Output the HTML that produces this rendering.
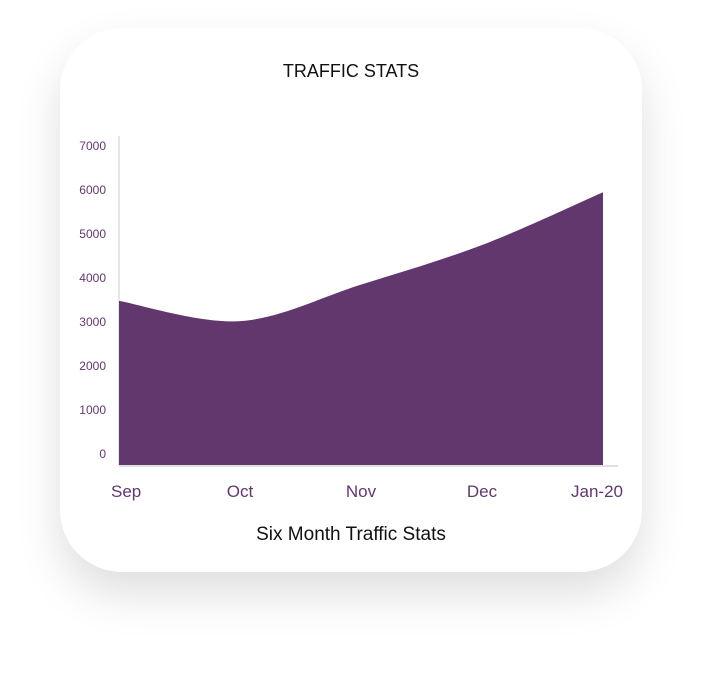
<!DOCTYPE html>
<html><head><meta charset="utf-8"><style>
body{margin:0;width:702px;height:673px;background:#fff;font-family:"Liberation Sans",sans-serif;overflow:hidden}
#card{position:absolute;left:60px;top:28px;width:582px;height:544px;border-radius:62px;background:#fff;box-shadow:0 22px 45px rgba(0,0,0,0.13)}
</style></head><body>
<div id="card"></div>
<svg id="chart" width="702" height="673" style="position:absolute;left:0;top:0">
<text x="351" y="77" text-anchor="middle" font-size="18" fill="#111">TRAFFIC STATS</text>
<text x="351" y="540" text-anchor="middle" font-size="19" fill="#111">Six Month Traffic Stats</text>
<line x1="119" y1="136" x2="119" y2="466" stroke="#e6e6e6" stroke-width="2"/>
<line x1="119" y1="466" x2="618" y2="466" stroke="#e0e0e0" stroke-width="2"/>
<g id="yt"></g><g id="xt"></g>
<path id="area" fill="#62376d"/>
</svg>
<script>
const categories=["Sep","Oct","Nov","Dec","Jan-20"];
const values=[3730,3270,4100,5000,6200];
const yTicks=[0,1000,2000,3000,4000,5000,6000,7000];
const x0=119,x1=603,base=465;
function xs(i){return x0+(x1-x0)*i/(categories.length-1);}
function ys(v){return base-v*0.044;}
const ns="http://www.w3.org/2000/svg";
yTicks.forEach(t=>{const e=document.createElementNS(ns,"text");


e.setAttribute("x",106);e.setAttribute("y",ys(t)-7);e.setAttribute("text-anchor","end");
e.setAttribute("font-size","12");e.setAttribute("fill","#62376d");e.textContent=t;document.getElementById("yt").appendChild(e);});
categories.forEach((c,i)=>{const e=document.createElementNS(ns,"text");


let x=xs(i);let anchor="middle";if(i==0){x=x0-8;anchor="start";}if(i==categories.length-1){x=x1+20;anchor="end";}
e.setAttribute("x",x);e.setAttribute("y",497);e.setAttribute("text-anchor",anchor);
e.setAttribute("font-size","17");e.setAttribute("fill","#62376d");e.textContent=c;document.getElementById("xt").appendChild(e);});
const pts=values.map((v,i)=>[xs(i),ys(v)]);
let d="M"+pts[0][0]+","+base+" L"+pts[0][0]+","+pts[0][1];
for(let i=0;i<pts.length-1;i++){const p0=pts[Math.max(0,i-1)],p1=pts[i],p2=pts[i+1],p3=pts[Math.min(pts.length-1,i+2)];
const c1=[p1[0]+(p2[0]-p0[0])/6,p1[1]+(p2[1]-p0[1])/6],c2=[p2[0]-(p3[0]-p1[0])/6,p2[1]-(p3[1]-p1[1])/6];
d+=` C${c1[0]},${c1[1]} ${c2[0]},${c2[1]} ${p2[0]},${p2[1]}`;}
d+=` L${pts[pts.length-1][0]},${base} Z`;
document.getElementById("area").setAttribute("d",d);
</script>
</body></html>
